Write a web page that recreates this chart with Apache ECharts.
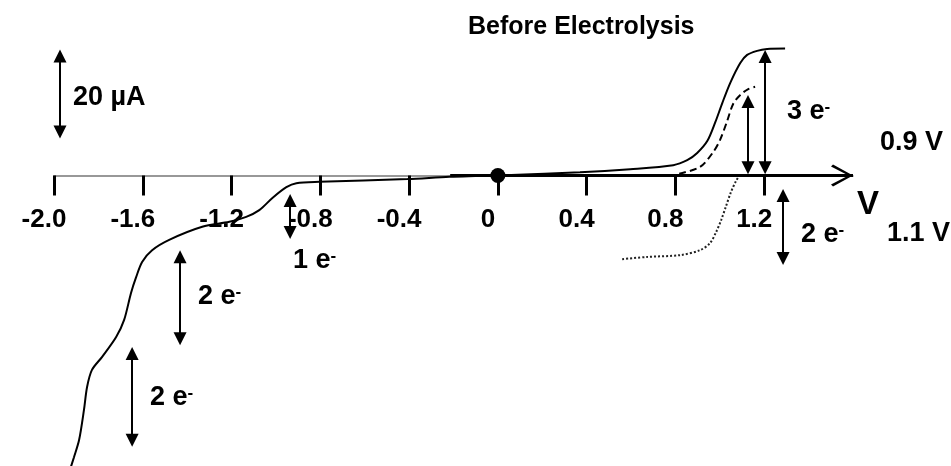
<!DOCTYPE html>
<html>
<head>
<meta charset="utf-8">
<script src="https://cdn.jsdelivr.net/npm/echarts@6/dist/echarts.min.js"></script>
<style>html,body{margin:0;padding:0;background:#fff;}#c{width:951px;height:466px;}</style>
</head>
<body>
<div id="c"></div>
<script>
// ---- data ----
const xTicks = [-2.0, -1.6, -1.2, -0.8, -0.4, 0, 0.4, 0.8, 1.2];

// cathodic sweep (solid), potential V and current uA
const cathV = [-1.928, -1.910, -1.887, -1.865, -1.851, -1.829, -1.783, -1.720, -1.684, -1.653, -1.630, -1.603, -1.558, -1.481, -1.332, -1.210, -1.134, -1.075, -1.016, -0.953, -0.908, -0.804, -0.407, -0.218, 0];
const cathI = [-65.4, -62.6, -58.8, -52.1, -47.0, -43.2, -40.3, -35.9, -32.1, -26.1, -22.6, -19.2, -16.6, -14.3, -11.4, -10.3, -9.2, -7.7, -5.0, -2.6, -1.7, -1.4, -0.8, -0.3, 0];

// anodic sweep (solid)
const anoV = [0, 0.370, 0.596, 0.790, 0.853, 0.898, 0.944, 0.980, 1.011, 1.047, 1.092, 1.123, 1.168, 1.213, 1.294];
const anoI = [0, 0.7, 1.4, 2.3, 3.4, 5.0, 7.7, 11.9, 16.1, 20.6, 25.0, 26.8, 27.7, 28.1, 28.2];

// anodic (dashed)
const dashV = [0.817, 0.911, 0.970, 1.001, 1.033, 1.060, 1.092, 1.128, 1.159];
const dashI = [0.4, 1.9, 5.2, 7.9, 12.1, 15.9, 17.9, 19.2, 19.7];

// dotted
const dotV = [0.560, 0.672, 0.821, 0.911, 0.956, 0.983, 1.006, 1.028, 1.050, 1.073, 1.087];
const dotI = [-18.6, -18.1, -17.7, -16.6, -15.0, -12.6, -9.9, -6.8, -3.7, -1.2, -0.1];

// double-headed annotation arrows: potential and current at both tips
const arrowV = [-1.973, -0.936, -1.432, -1.648, 1.204, 1.127, 1.285];
const arrowTop = [28.0, -4.1, -16.6, -38.1, 27.9, 17.9, -3.0];
const arrowBottom = [8.2, -14.1, -37.7, -60.3, 0.3, 0.3, -19.9];

const origin = [[0, 0]];

// ---- chart ----
const yMin = -64.56, yMax = 39;
const H = 466;
const pxPerUA = H / (yMax - yMin);
const zeroPx = yMax * pxPerUA;
const headPx = 13;
const inset = headPx / 2 / pxPerUA;

const zip = (a, b) => a.map((v, i) => [v, b[i]]);
const font = "'Liberation Sans', Arial, sans-serif";

const arrowData = arrowV.map((v, i) => [
  { coord: [v, arrowTop[i] - inset] },
  { coord: [v, arrowBottom[i] + inset] }
]);

const chevron = 'path://M11,0 L11.01,0 L11,0.01 Z M11,22 L22,42 L20,44 L11,26.5 L2,44 L0,42 Z';

const chart = echarts.init(document.getElementById('c'), null, { renderer: 'canvas' });

function txt(x, y, text, size, extra) {
  return Object.assign({
    type: 'text', x: x, y: y, silent: true,
    style: {
      text: text, fill: '#000', fontSize: size, fontWeight: 'bold', fontFamily: font,
      align: 'left', verticalAlign: 'middle',
      rich: { s: { fontSize: 17, fontWeight: 'bold', fontFamily: font, fill: '#000', verticalAlign: 'top', lineHeight: 17 } }
    }
  }, extra || {});
}

chart.setOption({
  animation: false,
  backgroundColor: '#fff',
  grid: { left: 54, right: 98, top: 0, bottom: 0, containLabel: false, outerBoundsMode: 'none' },
  xAxis: {
    type: 'value', min: -2.0, max: 1.6, position: 'bottom', offset: -(H - zeroPx),
    axisLine: { show: true, onZero: false, lineStyle: { color: '#777', width: 1.5 } },
    axisTick: { show: true, customValues: xTicks, length: 20, lineStyle: { color: '#000', width: 3 } },
    axisLabel: {
      customValues: xTicks,
      formatter: v => (v === 0 ? '0' : v.toFixed(1)),
      fontSize: 26, fontWeight: 'bold', fontFamily: font, color: '#000',
      margin: 31, padding: [0, 20, 0, 0]
    },
    splitLine: { show: false }
  },
  yAxis: { type: 'value', min: yMin, max: yMax, show: false, splitLine: { show: false } },
  series: [
    { type: 'line', data: zip(cathV, cathI), showSymbol: false, smooth: 0.3, clip: false, silent: true,
      lineStyle: { color: '#000', width: 2 } },
    { type: 'line', data: zip(anoV, anoI), showSymbol: false, smooth: 0.3, clip: false, silent: true,
      lineStyle: { color: '#000', width: 2 } },
    { type: 'line', data: zip(dashV, dashI), showSymbol: false, smooth: 0.3, clip: false, silent: true,
      lineStyle: { color: '#000', width: 2, type: [7, 4] } },
    { type: 'line', data: zip(dotV, dotI), showSymbol: false, smooth: 0.3, clip: false, silent: true,
      lineStyle: { color: '#222', width: 2, type: [2, 2] },
      markLine: {
        silent: true, symbol: ['triangle', 'triangle'], symbolSize: [headPx, headPx],
        label: { show: false }, lineStyle: { color: '#000', width: 2, type: 'solid' },
        emphasis: { disabled: true },
        data: arrowData
      }
    },
    { type: 'scatter', data: origin, symbolSize: 15, itemStyle: { color: '#000', opacity: 1 }, silent: true, z: 5,
      markLine: {
        silent: true, symbol: ['none', chevron], symbolSize: [22, 44],
        label: { show: false }, lineStyle: { color: '#000', width: 3, type: 'solid' },
        emphasis: { disabled: true },
        data: [[{ coord: [-0.215, 0] }, { coord: [1.6, 0] }]]
      }
    }
  ],
  graphic: [
    txt(468, 27, 'Before Electrolysis', 25),
    txt(73, 98, '20 µA', 27),
    txt(293, 261, '1 e{s|-}', 27),
    txt(198, 297, '2 e{s|-}', 27),
    txt(150, 398, '2 e{s|-}', 27),
    txt(787, 112, '3 e{s|-}', 27),
    txt(880, 143, '0.9 V', 27),
    txt(857, 205, 'V', 33),
    txt(801, 235, '2 e{s|-}', 27),
    txt(887, 234, '1.1 V', 27)
  ]
});
</script>
</body>
</html>
